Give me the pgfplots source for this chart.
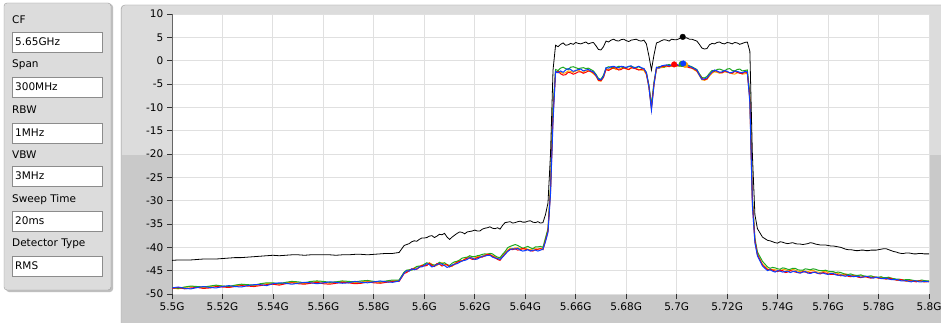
\documentclass[border=0pt]{standalone}
\usepackage{fontspec}
\setmainfont{DejaVu Sans}
\usepackage{pgfplots}
\usepackage{pgfplotstable}
\pgfplotsset{compat=1.18}

\definecolor{panel}{HTML}{DCDCDC}
\definecolor{paneldk}{HTML}{C9C9C9}
\definecolor{frameln}{HTML}{9C9C9C}
\definecolor{gridc}{HTML}{E0E0E0}
\definecolor{tr}{HTML}{FF0000}
\definecolor{tg}{HTML}{1FA81F}
\definecolor{tb}{HTML}{0A3CFF}
\definecolor{to}{HTML}{FFA500}

% spectrum: f [GHz], k = max hold (black), r g b o = traces
\pgfplotstableread{
f      k      r      g      b      o
5.500  -42.8 -48.8 -48.6 -48.7 -48.7
5.5025 -42.7 -48.6 -48.8 -48.5 -48.9
5.505  -42.7 -48.9 -48.5 -48.8 -48.6
5.5075 -42.7 -48.7 -48.3 -48.9 -48.4
5.510  -42.6 -48.6 -48.4 -48.6 -48.5
5.5125 -42.5 -48.8 -48.5 -48.4 -48.7
5.515  -42.5 -48.7 -48.3 -48.6 -48.4
5.5175 -42.5 -48.4 -48.1 -48.7 -48.2
5.520  -42.4 -48.5 -48.3 -48.4 -48.3
5.5225 -42.3 -48.6 -48.4 -48.2 -48.5
5.525  -42.2 -48.4 -48.1 -48.4 -48.2
5.5275 -42.2 -48.2 -47.9 -48.5 -48.0
5.530  -42.1 -48.3 -48.0 -48.2 -48.1
5.5325 -42.0 -48.4 -48.1 -48.0 -48.3
5.535  -41.9 -48.2 -47.8 -48.0 -47.9
5.5375 -41.8 -48.0 -47.6 -48.2 -47.8
5.540  -41.7 -47.9 -47.6 -47.8 -47.7
5.5425 -41.8 -48.1 -47.8 -47.6 -47.9
5.545  -41.7 -47.8 -47.5 -47.7 -47.6
5.5475 -41.6 -47.6 -47.3 -47.9 -47.5
5.550  -41.6 -47.8 -47.4 -47.7 -47.6
5.5525 -41.7 -47.9 -47.6 -47.5 -47.8
5.555  -41.6 -47.7 -47.3 -47.6 -47.5
5.5575 -41.6 -47.5 -47.2 -47.8 -47.3
5.560  -41.6 -47.8 -47.3 -47.6 -47.5
5.5625 -41.6 -47.9 -47.5 -47.4 -47.7
5.565  -41.7 -47.7 -47.4 -47.5 -47.4
5.5675 -41.6 -47.5 -47.2 -47.7 -47.3
5.570  -41.6 -47.6 -47.3 -47.6 -47.5
5.5725 -41.5 -47.8 -47.4 -47.3 -47.6
5.575  -41.5 -47.7 -47.2 -47.5 -47.4
5.5775 -41.6 -47.4 -47.1 -47.6 -47.2
5.580  -41.5 -47.6 -47.3 -47.4 -47.4
5.5825 -41.4 -47.7 -47.4 -47.2 -47.5
5.585  -41.3 -47.5 -47.2 -47.4 -47.3
5.5875 -41.3 -47.3 -47.0 -47.5 -47.2
5.590  -41.1 -47.3 -47.0 -47.2 -47.1
5.592  -39.6 -45.6 -45.3 -45.5 -45.4
5.593  -39.4 -45.4 -44.9 -45.0 -45.2
5.594  -39.2 -45.0 -44.8 -45.1 -44.9
5.595  -38.8 -44.6 -44.9 -44.6 -44.8
5.596  -38.6 -44.6 -44.5 -44.8 -44.4
5.597  -38.7 -44.7 -44.1 -44.6 -44.2
5.598  -38.3 -44.3 -44.0 -44.2 -44.1
5.599  -38.0 -43.9 -44.0 -44.2 -43.8
5.600  -38.0 -44.0 -43.6 -43.9 -43.7
5.601  -37.9 -43.9 -43.3 -43.5 -43.8
5.602  -37.6 -43.4 -43.5 -43.7 -43.3
5.603  -37.5 -43.9 -43.7 -44.2 -43.6
5.604  -37.9 -44.1 -43.8 -44.0 -43.9
5.605  -37.6 -43.5 -43.6 -43.7 -43.9
5.606  -37.2 -43.6 -43.2 -43.5 -43.4
5.607  -37.3 -44.0 -43.5 -43.6 -43.3
5.608  -37.0 -43.8 -43.3 -43.9 -43.6
5.609  -37.8 -43.7 -43.7 -44.3 -43.8
5.610  -38.3 -44.2 -43.9 -44.1 -44.0
5.611  -37.8 -43.9 -43.4 -43.8 -44.1
5.612  -37.4 -43.7 -43.1 -43.6 -43.4
5.613  -37.0 -43.2 -43.0 -43.5 -43.0
5.614  -36.7 -43.0 -42.7 -43.2 -42.8
5.615  -36.8 -42.9 -42.3 -42.9 -42.9
5.616  -37.1 -42.6 -42.2 -42.8 -42.5
5.617  -36.7 -42.3 -42.1 -42.6 -42.2
5.618  -36.6 -42.3 -41.8 -42.2 -42.0
5.619  -36.5 -42.6 -42.0 -42.3 -42.3
5.620  -36.3 -42.5 -42.0 -42.6 -42.3
5.621  -36.5 -42.2 -41.8 -42.5 -42.0
5.622  -36.5 -42.1 -41.7 -42.2 -42.0
5.623  -36.1 -42.1 -41.5 -41.9 -41.9
5.624  -35.9 -41.8 -41.4 -41.9 -41.6
5.625  -35.8 -41.5 -41.5 -41.7 -41.4
5.626  -35.6 -41.6 -41.3 -41.7 -41.5
5.627  -35.9 -41.9 -41.4 -42.1 -41.8
5.628  -36.0 -42.2 -41.8 -42.3 -42.0
5.629  -35.8 -42.6 -42.1 -42.4 -42.3
5.630  -36.1 -42.8 -42.2 -42.6 -42.4
5.631  -35.3 -42.0 -41.5 -42.1 -41.8
5.632  -34.7 -41.4 -40.9 -41.5 -41.2
5.633  -34.6 -40.8 -40.1 -40.9 -40.6
5.634  -34.5 -40.4 -39.8 -40.5 -40.2
5.635  -34.8 -40.5 -39.6 -40.3 -40.4
5.636  -34.7 -40.3 -39.4 -40.4 -40.1
5.637  -34.5 -40.6 -39.6 -40.2 -40.1
5.638  -34.4 -40.5 -39.9 -40.6 -40.3
5.639  -34.6 -40.2 -40.2 -40.8 -40.4
5.640  -34.6 -40.4 -40.0 -40.7 -40.2
5.641  -34.4 -40.5 -39.8 -40.5 -40.4
5.642  -34.3 -40.7 -40.1 -40.8 -40.5
5.643  -34.6 -40.8 -40.3 -40.6 -40.3
5.644  -34.7 -40.5 -39.9 -40.6 -40.3
5.645  -34.5 -40.4 -39.9 -40.8 -40.4
5.646  -34.8 -40.3 -39.8 -40.6 -40.2
5.647  -34.7 -40.5 -40.0 -40.4 -40.4
5.648  -33.0 -38.6 -38.0 -38.8 -38.4
5.649  -30.5 -36.5 -36.0 -36.8 -36.3
5.650  -20.0 -28.0 -27.0 -28.5 -27.5
5.651   -2.0 -12.0 -10.0 -13.0 -11.0
5.652    3.3  -2.6  -1.9  -2.3  -2.4
5.653    3.0  -2.3  -2.1  -2.6  -2.2
5.654    3.5  -2.8  -1.6  -2.2  -2.5
5.655    3.8  -3.1  -1.4  -2.5  -2.7
5.656    3.3  -3.0  -1.7  -2.0  -2.6
5.657    3.4  -2.5  -1.9  -1.7  -2.2
5.658    3.7  -2.6  -1.4  -1.9  -2.3
5.659    3.5  -2.9  -1.3  -2.3  -2.5
5.660    3.9  -2.7  -1.5  -2.1  -2.2
5.661    3.7  -2.4  -1.7  -1.9  -2.0
5.662    3.6  -2.4  -1.6  -1.8  -2.4
5.663    3.8  -2.7  -1.5  -2.2  -2.5
5.664    4.0  -2.5  -1.7  -2.0  -2.1
5.665    3.6  -2.2  -1.6  -1.9  -2.2
5.666    3.8  -2.3  -1.9  -2.2  -2.4
5.667    3.9  -2.6  -2.2  -2.4  -2.8
5.668    3.2  -3.2  -2.9  -3.1  -3.3
5.669    2.4  -4.2  -3.8  -4.0  -4.3
5.670    2.3  -4.3  -4.0  -4.1  -4.4
5.671    3.0  -3.5  -3.1  -3.4  -3.6
5.672    4.2  -1.9  -1.6  -1.5  -1.8
5.673    4.0  -2.1  -1.3  -1.6  -1.9
5.674    4.4  -1.8  -1.4  -1.3  -1.7
5.675    4.6  -1.5  -1.6  -1.2  -1.6
5.676    4.3  -1.6  -1.5  -1.4  -1.9
5.677    4.2  -2.0  -1.2  -1.5  -1.8
5.678    4.5  -1.9  -1.3  -1.2  -1.6
5.679    4.6  -1.5  -1.6  -1.3  -1.5
5.680    4.3  -1.7  -1.4  -1.5  -1.8
5.681    4.1  -1.9  -1.3  -1.2  -1.9
5.682    4.4  -1.5  -1.2  -1.1  -1.6
5.683    4.5  -1.6  -1.4  -1.6  -1.5
5.684    4.6  -1.8  -1.5  -1.4  -1.7
5.685    4.3  -2.0  -1.3  -1.2  -1.9
5.686    4.2  -1.9  -1.6  -1.5  -2.0
5.687    4.4  -1.7  -1.8  -1.7  -2.1
5.688    3.6  -2.8  -2.5  -2.6  -3.0
5.689    1.0  -5.5  -5.2  -5.6  -5.8
5.690   -2.0 -10.3  -9.5 -10.6 -10.0
5.691    1.2  -5.0  -4.6  -5.2  -5.3
5.692    3.8  -1.6  -1.5  -1.4  -1.8
5.693    4.0  -1.4  -1.3  -1.6  -1.6
5.694    4.3  -1.3  -1.2  -1.1  -1.5
5.695    4.5  -1.2  -1.4  -1.0  -1.4
5.696    4.4  -1.1  -1.0  -0.9  -1.3
5.697    4.2  -1.3  -0.8  -1.1  -1.1
5.698    4.6  -1.0  -1.1  -0.9  -1.2
5.699    4.5  -0.8  -1.0  -0.9  -1.1
5.700    4.5  -1.1  -0.9  -0.8  -1.2
5.701    4.7  -1.0  -1.2  -1.0  -1.0
5.702    5.1  -1.2  -0.7  -0.6  -0.8
5.703    4.8  -1.1  -0.8  -0.7  -0.9
5.704    4.9  -1.3  -0.9  -0.9  -1.0
5.705    4.6  -1.5  -1.1  -1.2  -1.4
5.706    4.6  -1.6  -1.3  -1.4  -1.6
5.707    4.4  -1.8  -1.6  -1.7  -2.0
5.708    4.2  -2.2  -1.9  -2.0  -2.3
5.709    3.5  -3.0  -2.8  -3.1  -3.2
5.710    2.7  -3.8  -3.6  -4.0  -4.1
5.711    2.5  -4.1  -3.7  -3.9  -4.2
5.712    2.6  -3.9  -3.4  -3.7  -4.0
5.713    3.4  -3.0  -2.7  -3.0  -3.3
5.714    3.7  -2.5  -2.1  -2.4  -2.7
5.715    3.6  -2.1  -2.3  -2.0  -2.4
5.716    3.9  -2.3  -1.9  -2.2  -2.5
5.717    4.0  -2.5  -1.8  -2.5  -2.7
5.718    3.7  -2.6  -2.0  -2.4  -2.6
5.719    3.6  -2.2  -2.2  -2.1  -2.4
5.720    3.9  -2.4  -1.8  -2.3  -2.5
5.721    3.8  -2.6  -1.7  -2.6  -2.6
5.722    3.6  -2.7  -2.1  -2.5  -2.8
5.723    3.9  -2.3  -2.2  -2.2  -2.9
5.724    3.8  -2.5  -1.9  -2.3  -2.6
5.725    3.5  -2.7  -1.8  -2.5  -2.5
5.726    3.7  -2.8  -2.2  -2.6  -2.9
5.727    3.9  -2.4  -2.1  -2.3  -2.8
5.728    4.0  -2.6  -2.0  -2.4  -2.7
5.729    2.0  -8.0  -7.0  -9.0  -8.5
5.730  -20.0 -30.0 -29.0 -31.0 -30.5
5.731  -33.0 -38.5 -38.0 -39.0 -38.8
5.732  -36.0 -41.5 -41.0 -41.8 -41.6
5.734  -37.8 -43.8 -43.0 -44.0 -43.6
5.736  -38.5 -44.8 -44.2 -45.0 -44.6
5.737  -38.6 -44.7 -44.5 -44.8 -44.9
5.738  -38.8 -44.9 -44.3 -45.1 -44.7
5.739  -39.0 -45.1 -44.4 -45.3 -44.8
5.740  -39.1 -45.2 -44.6 -45.0 -44.9
5.741  -38.8 -44.9 -44.7 -45.1 -45.1
5.742  -38.9 -45.0 -44.4 -45.3 -44.8
5.743  -39.1 -45.4 -44.5 -45.2 -44.8
5.744  -39.2 -45.3 -44.7 -45.1 -45.0
5.745  -39.1 -45.0 -44.7 -45.4 -45.0
5.746  -39.0 -45.1 -44.5 -45.2 -44.7
5.747  -39.2 -45.3 -44.5 -45.1 -44.9
5.748  -39.3 -45.4 -44.8 -45.4 -45.1
5.749  -39.3 -45.5 -44.9 -45.5 -45.2
5.750  -39.4 -45.2 -44.9 -45.3 -45.0
5.751  -39.3 -45.3 -44.6 -45.2 -45.1
5.752  -39.2 -45.5 -44.7 -45.5 -45.2
5.753  -39.0 -45.4 -44.8 -45.6 -45.0
5.754  -39.1 -45.3 -44.6 -45.4 -44.9
5.755  -39.3 -45.4 -44.7 -45.3 -45.2
5.756  -39.4 -45.6 -44.9 -45.6 -45.3
5.757  -39.5 -45.7 -45.0 -45.5 -45.4
5.758  -39.5 -45.4 -45.0 -45.5 -45.2
5.759  -39.5 -45.5 -44.9 -45.7 -45.1
5.760  -39.6 -45.7 -45.1 -45.8 -45.4
5.761  -39.7 -45.8 -45.2 -45.6 -45.6
5.762  -39.7 -45.8 -45.2 -45.6 -45.5
5.763  -39.8 -45.7 -45.4 -45.9 -45.4
5.764  -39.9 -45.9 -45.3 -46.0 -45.6
5.765  -40.0 -46.1 -45.4 -45.9 -45.8
5.766  -40.2 -46.0 -45.6 -46.1 -45.8
5.767  -40.4 -45.9 -45.8 -46.2 -45.7
5.768  -40.5 -46.2 -45.8 -46.0 -45.9
5.769  -40.5 -46.3 -45.7 -46.1 -46.0
5.770  -40.6 -46.1 -45.9 -46.3 -46.1
5.771  -40.7 -46.2 -46.0 -46.2 -46.2
5.772  -40.7 -46.4 -46.0 -46.2 -46.0
5.773  -40.6 -46.5 -45.9 -46.4 -46.1
5.774  -40.6 -46.3 -46.1 -46.4 -46.3
5.775  -40.7 -46.3 -46.2 -46.2 -46.4
5.776  -40.7 -46.5 -46.2 -46.3 -46.2
5.777  -40.6 -46.6 -46.1 -46.5 -46.3
5.778  -40.6 -46.4 -46.3 -46.6 -46.4
5.779  -40.6 -46.4 -46.4 -46.4 -46.5
5.780  -40.5 -46.6 -46.4 -46.5 -46.6
5.781  -40.4 -46.6 -46.3 -46.7 -46.4
5.782  -40.3 -46.7 -46.5 -46.7 -46.5
5.783  -40.3 -46.8 -46.5 -46.6 -46.8
5.784  -40.5 -46.6 -46.4 -46.8 -46.7
5.785  -40.7 -46.7 -46.6 -46.9 -46.6
5.786  -40.9 -46.9 -46.7 -46.9 -46.8
5.787  -41.0 -47.0 -46.8 -46.9 -47.0
5.788  -41.2 -47.0 -46.8 -47.0 -47.1
5.789  -41.3 -46.9 -46.9 -47.2 -47.0
5.790  -41.3 -47.1 -47.0 -47.2 -47.0
5.791  -41.2 -47.2 -46.9 -47.1 -47.3
5.792  -41.2 -47.2 -46.9 -47.3 -47.2
5.793  -41.3 -47.2 -47.0 -47.4 -47.1
5.794  -41.4 -47.3 -47.1 -47.2 -47.3
5.795  -41.4 -47.4 -47.2 -47.2 -47.3
5.796  -41.3 -47.2 -47.2 -47.4 -47.1
5.797  -41.3 -47.2 -47.0 -47.4 -47.3
5.798  -41.4 -47.4 -47.1 -47.3 -47.4
5.799  -41.4 -47.4 -47.2 -47.3 -47.2
5.800  -41.4 -47.3 -47.2 -47.4 -47.3
}\spec

\begin{document}
\fontsize{10.5}{12}\selectfont
\begin{tikzpicture}[x=1pt,y=1pt]
\useasboundingbox (0,0) rectangle (941,322);
\fill[white] (0,0) rectangle (941,322);

% settings panel
\fill[black!25, rounded corners=3] (6,30) rectangle (113,318);
\draw[frameln, fill=panel, rounded corners=3] (4,32) rectangle (111,319);
\foreach \t/\yy in {CF/20, Span/65, RBW/110, VBW/155, Sweep Time/200, Detector Type/244}
  \node[anchor=west, inner sep=0pt] at (12,{322-\yy}) {\t};
\foreach \v/\yy in {5.65GHz/32, 300MHz/77, 1MHz/123, 3MHz/166, 20ms/211, RMS/256} {
  \draw[black!45, fill=white] (12,{322-\yy}) rectangle (102,{302-\yy});
  \node[anchor=west, inner sep=0pt] at (15,{312-\yy}) {\v};
}

% graph frame
\draw[frameln, fill=paneldk, rounded corners=4] (121,-5) rectangle (946,317);
\fill[panel] (122,167) rectangle (945,310);
\fill[panel, rounded corners=3] (122,300) rectangle (945,316.5);

\begin{axis}[
    at={(172pt,28pt)}, anchor=south west,
    scale only axis, width=757pt, height=280pt,
    xmin=5.5, xmax=5.8, ymin=-50, ymax=10,
    axis background/.style={fill=white},
    grid=major, major grid style={gridc, line width=1pt},
    axis lines*=left,
    x axis line style={draw=none},
    y axis line style={draw=black!60, line width=0.8pt},
    tick align=outside, major tick length=5pt,
    tick style={black!80, line width=0.8pt},
    xtick={5.5,5.52,5.54,5.56,5.58,5.6,5.62,5.64,5.66,5.68,5.7,5.72,5.74,5.76,5.78,5.8},
    xticklabels={5.5G,5.52G,5.54G,5.56G,5.58G,5.6G,5.62G,5.64G,5.66G,5.68G,5.7G,5.72G,5.74G,5.76G,5.78G,5.8G},
    ytick={-50,-45,-40,-35,-30,-25,-20,-15,-10,-5,0,5,10},
    yticklabels={-50,-45,-40,-35,-30,-25,-20,-15,-10,-5,0,5,10},
    ticklabel style={font=\fontsize{10.5}{12}\selectfont},
]
\addplot[to, line width=1pt] table[x=f, y=o] {\spec};
\addplot[tg, line width=1pt] table[x=f, y=g] {\spec};
\addplot[tr, line width=1pt] table[x=f, y=r] {\spec};
\addplot[tb, line width=1pt] table[x=f, y=b] {\spec};
\addplot[black, line width=0.8pt] table[x=f, y=k] {\spec};

% peak markers
\addplot[only marks, mark=*, mark size=2.8pt, to] coordinates {(5.7034,-0.9)};
\addplot[only marks, mark=*, mark size=2.8pt, tg] coordinates {(5.7020,-0.7)};
\addplot[only marks, mark=*, mark size=2.8pt, tr] coordinates {(5.6990,-0.8)};
\addplot[only marks, mark=*, mark size=2.8pt, tb] coordinates {(5.7026,-0.6)};
\addplot[only marks, mark=*, mark size=2.8pt, black] coordinates {(5.7024,5.1)};
\end{axis}
\end{tikzpicture}
\end{document}
